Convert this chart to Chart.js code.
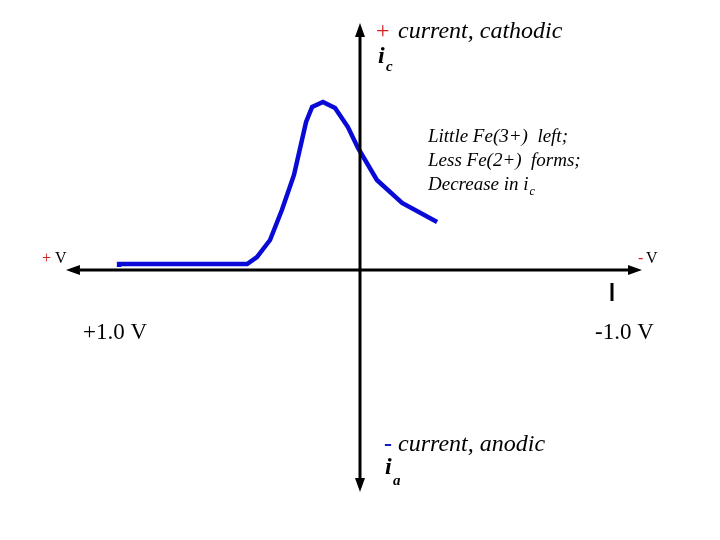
<!DOCTYPE html>
<html>
<head>
<meta charset="utf-8">
<script src="https://cdn.jsdelivr.net/npm/chart.js@4"></script>
<style>
  body { margin: 0; background: #fff; }
  canvas { display: block; }
</style>
</head>
<body>
<canvas id="myChart" width="720" height="540"></canvas>
<script>
// potential in V (positive to the left), current in arbitrary units (cathodic up)
const potential = [0.956, 0.956, 0.448, 0.409, 0.357, 0.310, 0.262, 0.214, 0.190, 0.147, 0.099, 0.048, 0.008, -0.067, -0.167, -0.306];
const current   = [0.03,  0.06,  0.06,  0.13,  0.30,  0.60,  0.95,  1.48,  1.63,  1.68,  1.62,  1.43,  1.22,  0.90,   0.67,   0.48];
const tickLabels = ['+1.0 V', '-1.0 V'];
const tickValues = [1.0, -1.0];

let points = potential.map(function (v, i) { return { x: v, y: current[i] }; });

function arrow(ctx, x1, y1, x2, y2) {
    let a = Math.atan2(y2 - y1, x2 - x1);
    let len = 14, hw = 5;
    ctx.beginPath();
    ctx.moveTo(x1, y1);
    ctx.lineTo(x2 - Math.cos(a) * len, y2 - Math.sin(a) * len);
    ctx.stroke();
    ctx.beginPath();
    ctx.moveTo(x2, y2);
    ctx.lineTo(x2 - Math.cos(a) * len - Math.sin(a) * hw, y2 - Math.sin(a) * len + Math.cos(a) * hw);
    ctx.lineTo(x2 - Math.cos(a) * len + Math.sin(a) * hw, y2 - Math.sin(a) * len - Math.cos(a) * hw);
    ctx.closePath();
    ctx.fill();
}

const axesPlugin = {
    id: 'axesPlugin',
    afterDatasetsDraw(chart) {
        let ctx = chart.ctx;
        let xs = chart.scales.x, ys = chart.scales.y;
        let x0 = xs.getPixelForValue(0), y0 = ys.getPixelForValue(0);
        ctx.save();
        ctx.strokeStyle = '#000';
        ctx.fillStyle = '#000';
        ctx.lineWidth = 3;
        // axes, both ends with arrowheads
        arrow(ctx, x0, y0, xs.getPixelForValue(1.167), y0);
        arrow(ctx, x0, y0, xs.getPixelForValue(-1.119), y0);
        arrow(ctx, x0, y0, x0, ys.getPixelForValue(2.47));
        arrow(ctx, x0, y0, x0, ys.getPixelForValue(-2.22));

        // small tick at -1.0 V
        let tx = xs.getPixelForValue(tickValues[1]);
        ctx.beginPath();
        ctx.moveTo(tx, ys.getPixelForValue(-0.13));
        ctx.lineTo(tx, ys.getPixelForValue(-0.31));
        ctx.stroke();

        ctx.textBaseline = 'alphabetic';
        ctx.textAlign = 'left';

        // tick labels
        ctx.font = '23px "Liberation Serif"';
        ctx.fillStyle = '#000';
        ctx.fillText(tickLabels[0], 83, 339);
        ctx.fillText(tickLabels[1], 595, 339);

        // +V / -V
        ctx.font = '16px "Liberation Serif"';
        ctx.fillStyle = '#d02020';
        ctx.fillText('+', 42, 263);
        ctx.fillText('-', 638, 263);
        ctx.fillStyle = '#000';
        ctx.fillText('V', 55, 263);
        ctx.fillText('V', 646, 263);

        // top label
        ctx.font = '24px "Liberation Serif"';
        ctx.fillStyle = '#d02020';
        ctx.fillText('+', 376, 38);
        ctx.font = 'italic 24px "Liberation Serif"';
        ctx.fillStyle = '#000';
        ctx.fillText('current, cathodic', 398, 38);
        ctx.font = 'bold italic 24px "Liberation Serif"';
        ctx.fillText('i', 378, 63);
        ctx.font = 'bold italic 15px "Liberation Serif"';
        ctx.fillText('c', 386, 71);

        // bottom label
        ctx.font = 'bold 24px "Liberation Serif"';
        ctx.fillStyle = '#1020c0';
        ctx.fillText('-', 384, 451);
        ctx.font = 'italic 24px "Liberation Serif"';
        ctx.fillStyle = '#000';
        ctx.fillText('current, anodic', 398, 451);
        ctx.font = 'bold italic 24px "Liberation Serif"';
        ctx.fillText('i', 385, 474);
        ctx.font = 'bold italic 15px "Liberation Serif"';
        ctx.fillText('a', 393, 485);

        // annotation
        ctx.font = 'italic 19px "Liberation Serif"';
        ctx.fillText('Little Fe(3+)  left;', 428, 142);
        ctx.fillText('Less Fe(2+)  forms;', 428, 166);
        ctx.fillText('Decrease in i', 428, 190);
        let w = ctx.measureText('Decrease in i').width;
        ctx.font = 'italic 12px "Liberation Serif"';
        ctx.fillText('c', 428 + w + 1, 195);
        ctx.restore();
    }
};

let ctx = document.getElementById('myChart').getContext('2d');
let chart = new Chart(ctx, {
    type: 'line',
    data: {
        datasets: [{
            data: points,
            borderColor: '#0a0ad8',
            borderWidth: 4.5,
            pointRadius: 0,
            tension: 0,
            fill: false
        }]
    },
    options: {
        responsive: false,
        animation: false,
        layout: { padding: 0 },
        plugins: {
            legend: { display: false },
            tooltip: { enabled: false }
        },
        scales: {
            x: { type: 'linear', reverse: true, min: -1.4286, max: 1.4286, display: false },
            y: { type: 'linear', min: -2.7, max: 2.7, display: false }
        }
    },
    plugins: [axesPlugin]
});
</script>
</body>
</html>
